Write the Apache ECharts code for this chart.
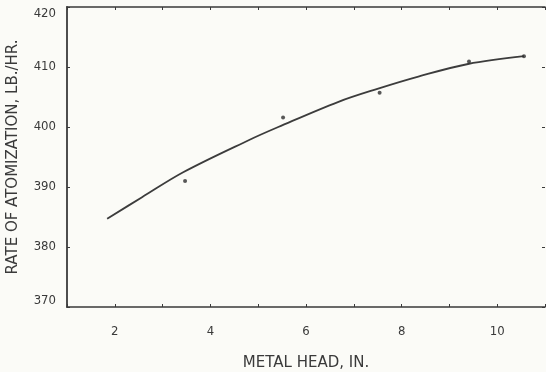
<!DOCTYPE html>
<html>
<head>
<meta charset="utf-8">
<script src="https://cdn.jsdelivr.net/npm/echarts@6/dist/echarts.min.js"></script>
<style>
  html, body { margin: 0; padding: 0; background: #fbfbf7; }
  #chart { width: 546px; height: 372px; }
</style>
</head>
<body>
<div id="chart"></div>
<script>
// Fitted curve: rate of atomization vs metal head
const curveHead = [1.84, 2.57, 3.44, 4.8, 5.42, 6.68, 7.51, 8.35, 9.39, 10.56];
const curveRate = [384.7, 388.3, 392.5, 397.8, 400.0, 404.2, 406.4, 408.4, 410.5, 411.8];

// Measured points
const pointHead = [3.47, 5.52, 7.54, 9.41, 10.56];
const pointRate = [391.0, 401.6, 405.7, 410.9, 411.8];

// Axis ranges and tick values
const headRange = [1, 11];
const rateRange = [370, 420];
const rateStep = 10;

const ink = '#3a3a3a';
const font = 'DejaVu Sans Condensed, DejaVu Sans, sans-serif';

const chart = echarts.init(document.getElementById('chart'), null, { renderer: 'canvas' });

const tickStyle = { show: true, inside: true, length: 3, lineStyle: { color: ink, width: 1 } };

chart.setOption({
  backgroundColor: '#fbfbf7',
  animation: false,
  grid: { left: 67, right: 1, top: 7, bottom: 65, containLabel: false, outerBoundsMode: 'none' },
  xAxis: [
    {
      type: 'value', position: 'bottom',
      min: headRange[0], max: headRange[1], interval: 1,
      name: 'METAL HEAD, IN.', nameLocation: 'middle', nameGap: 49,
      nameTextStyle: { color: ink, fontSize: 15, fontFamily: 'DejaVu Sans, sans-serif' },
      axisLine: { show: true, lineStyle: { color: ink, width: 1.6 } },
      axisTick: tickStyle,
      splitLine: { show: false },
      axisLabel: {
        margin: 18, color: ink, fontSize: 13, fontFamily: font,
        formatter: v => (v % 2 === 0 ? String(v) : '')
      }
    },
    {
      type: 'value', position: 'top',
      min: headRange[0], max: headRange[1], interval: 1,
      axisLine: { show: true, lineStyle: { color: ink, width: 1.6 } },
      axisTick: tickStyle,
      axisLabel: { show: false },
      splitLine: { show: false }
    }
  ],
  yAxis: [
    {
      type: 'value', position: 'left',
      min: rateRange[0], max: rateRange[1], interval: rateStep,
      name: 'RATE OF ATOMIZATION, LB./HR.', nameLocation: 'middle', nameGap: 46,
      nameTextStyle: { color: ink, fontSize: 15, fontFamily: 'DejaVu Sans, sans-serif' },
      axisLine: { show: true, lineStyle: { color: ink, width: 1.8 } },
      axisTick: tickStyle,
      splitLine: { show: false },
      axisLabel: {
        margin: 11, color: ink, fontSize: 13, fontFamily: font,
        verticalAlignMinLabel: 'bottom', verticalAlignMaxLabel: 'top'
      }
    },
    {
      type: 'value', position: 'right',
      min: rateRange[0], max: rateRange[1], interval: rateStep,
      axisLine: { show: false },
      axisTick: tickStyle,
      axisLabel: { show: false },
      splitLine: { show: false }
    }
  ],
  series: [
    {
      type: 'line',
      data: curveHead.map((x, i) => [x, curveRate[i]]),
      smooth: 0.35,
      showSymbol: false,
      lineStyle: { color: '#3c3c3c', width: 1.8 },
      z: 2
    },
    {
      type: 'scatter',
      data: pointHead.map((x, i) => [x, pointRate[i]]),
      symbol: 'circle',
      symbolSize: 4,
      itemStyle: { color: '#2e2e2e' },
      z: 3
    }
  ]
});
</script>
</body>
</html>
